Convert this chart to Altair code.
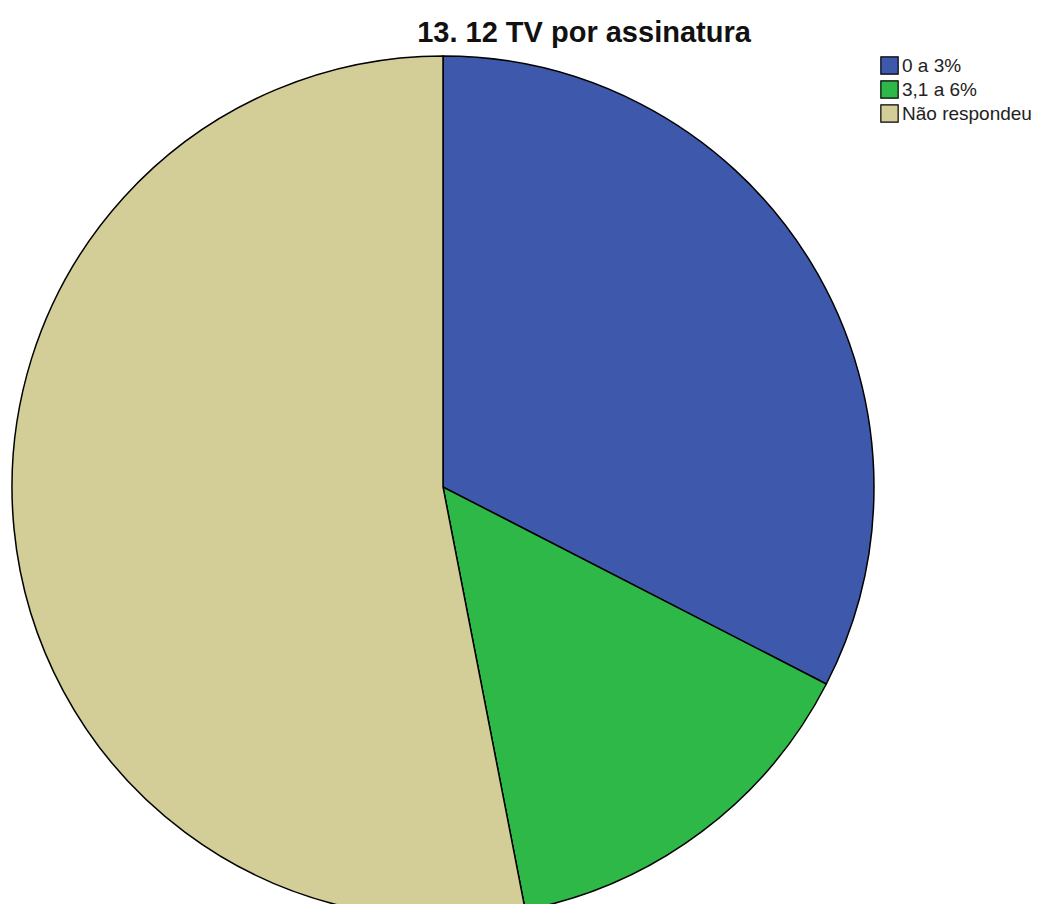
import altair as alt
import pandas as pd

categories = ["0 a 3%", "3,1 a 6%", "Não respondeu"]
degrees = [117.2, 51.8, 191.0]
colors = ["#3E58AC", "#2EB848", "#D3CE97"]
title_text = "13. 12 TV por assinatura"

df = pd.DataFrame({"cat": categories, "val": degrees, "ord": list(range(len(categories)))})
tdf = pd.DataFrame({"t": [title_text]})

pie = alt.Chart(df).mark_arc(stroke="black", strokeWidth=1.5, outerRadius=431).encode(
    theta=alt.Theta("val:Q", stack=True),
    order=alt.Order("ord:Q"),
    fill=alt.Fill("cat:N", scale=alt.Scale(domain=categories, range=colors),
                  legend=alt.Legend(title=None, orient="none", legendX=872, legendY=48,
                                    symbolType="square", symbolSize=300,
                                    symbolStrokeColor="black", symbolStrokeWidth=1.2,
                                    labelFont="Liberation Sans", labelFontSize=19,
                                    labelColor="#222222", rowPadding=1, labelOffset=3,
                                    symbolOffset=0, padding=0)),
    x=alt.value(435),
    y=alt.value(479),
)

title = alt.Chart(tdf).mark_text(font="Liberation Sans", fontSize=29, fontWeight="bold",
                                 color="#111111", align="center", baseline="alphabetic").encode(
    text="t:N", x=alt.value(576), y=alt.value(34)
)

chart = alt.layer(pie, title).properties(
    width=1030, height=896, autosize=alt.AutoSizeParams(type="none"), padding=0
).configure_view(stroke=None)

chart.save("out.html", embed_options={"renderer": "svg", "actions": False})
